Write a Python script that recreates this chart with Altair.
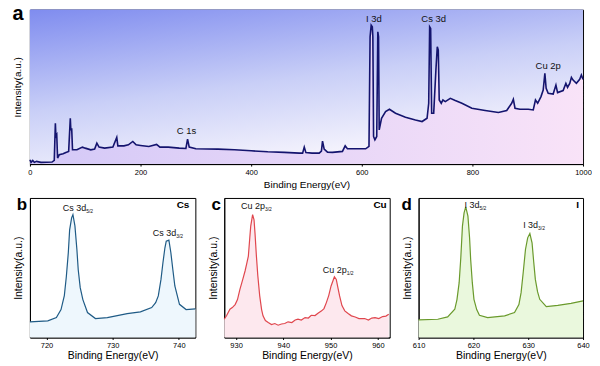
import altair as alt
import pandas as pd

FONT = "Liberation Sans"

# ---------------- panel a : survey spectrum ----------------
survey_E = [0, 2, 5, 8, 12, 20, 40, 44, 46, 47, 48.5, 50, 53, 60, 65, 70, 73, 74, 75.5, 77,
            85, 95, 100, 110, 117, 121, 125, 135, 150, 157, 159, 170, 178, 186, 192, 200, 215,
            229, 235, 250, 270, 282, 285, 288, 300, 340, 370, 400, 430, 460, 487, 493, 496, 499,
            510, 523, 527, 529, 532, 538, 547, 565, 570, 574, 583, 607, 613, 615, 617, 619, 620,
            621.3, 623.7, 627, 629, 630.3, 631.5, 635.7, 643, 650, 661, 679, 697, 709, 718, 721,
            722.7, 724.5, 726.3, 730, 734, 736.5, 738.3, 740, 743.7, 746.7, 751, 760, 769, 781,
            799, 823, 847, 862, 871, 874, 877, 886, 901, 910, 914, 918, 924, 928, 931, 933.3,
            937, 946, 951, 954, 964, 969, 972, 976, 979, 982, 988, 994, 997, 1000]
survey_I = [4.3, 1.7, 3.7, 1.7, 2.7, 1.7, 2.0, 3.7, 41, 27.7, 29.3, 6, 9.3, 10.3, 11.7, 12.7, 46, 34, 36, 14.3,
            14.3, 17, 16, 14.3, 15, 21, 17, 16, 17, 26.7, 18.3, 18.3, 19.3, 22.7, 19.3, 18.7, 17.7,
            19.7, 17, 17, 16, 15.7, 25, 17, 15.3, 15, 14.3, 13.3, 12.3, 11.7, 11, 11, 17, 11.5,
            11, 11, 13, 23, 15, 12, 11.7, 12.7, 18.3, 15.5, 15.3, 15.3, 17.7, 127.7, 139.3, 137.7, 127.7,
            27.7, 24.3, 27.7, 132.7, 127.7, 34.3, 46, 52.7, 55, 51, 47, 44.3, 42.7, 46, 61,
            137.7, 136, 51, 51, 94.3, 117.7, 114.3, 64.3, 61, 64.3, 62.7, 66, 63.7, 61,
            56, 53.7, 51.7, 53.7, 61, 65, 56, 55, 55, 54.3, 64.3, 61, 67.7, 74.3, 91, 76,
            71, 70.3, 79.3, 71.7, 73.7, 81, 77, 81, 87, 84.3, 81, 85, 89.3, 85]
survey_ticks = [0, 200, 400, 600, 800, 1000]
survey_lab_text = ["C 1s", "I 3d", "Cs 3d", "Cu 2p"]
survey_lab_E = [283, 622, 730, 937]
survey_lab_I = [33, 146, 146, 98]

# ---------------- panel b : Cs 3d ----------------
cs_E = [717.5, 720.2, 721.5, 722.2, 722.7, 723.0, 723.3, 723.5, 723.8, 724.0, 724.3, 724.6, 724.8,
        725.1, 725.5, 726.2, 727.4, 729.2, 730.7, 732.2, 734.2, 735.9, 736.5, 736.9, 737.3, 737.6,
        737.9, 738.1, 738.5, 738.8, 739.1, 739.4, 740.1, 741.1, 742.5]
cs_I = [15.7, 16.7, 20, 28, 42, 61, 85, 108, 120, 123.3, 112, 88, 68,
        50, 38, 25, 19, 20, 22, 24, 25.7, 30, 35, 41.7, 58, 75,
        90, 96.7, 97.7, 85, 68, 51.7, 33.3, 28, 28.7]
cs_ticks = [720, 730, 740]
cs_lab_main = ["Cs 3d", "Cs 3d"]
cs_lab_sub = ["5/2", "3/2"]
cs_lab_E = [726.0, 739.6]
cs_lab_I = [130, 105]

# ---------------- panel c : Cu 2p ----------------
cu_E = [927.5, 928.0, 928.7, 929.2, 929.8, 930.3, 930.8, 931.4, 931.9, 932.3, 932.6, 932.9, 933.1,
        933.5, 933.8, 934.0, 934.3, 934.6, 935.0, 935.4, 935.7, 936.2, 936.8, 937.5, 938.2, 938.9,
        939.6, 940.3, 941.0, 941.8, 942.5, 943.1, 943.8, 944.6, 945.3, 945.9, 946.7, 947.4, 948.1,
        948.6, 949.1, 949.6, 950.1, 950.5, 950.8, 951.2, 951.5, 951.9, 952.4, 953.0, 953.7, 954.4,
        955.2, 956.0, 957.2, 958.0, 958.7, 959.4, 960.2, 961.0, 961.7, 962.3]
cu_I = [18.3, 22, 28.3, 30, 33, 38, 48, 58, 66.7, 75, 81.7, 100, 111.7,
        123.3, 118, 105, 81.7, 62, 41.7, 28, 21.7, 17, 15, 13, 14, 12.3,
        13.5, 14, 15.7, 15, 17.5, 18.3, 17.5, 20, 19.5, 22.3, 22, 24.5, 26.7,
        29, 35, 42, 51.7, 57, 61, 58.3, 51, 41.7, 32, 26.7, 24, 21.7,
        20.5, 19, 19, 17.5, 19.5, 20, 19, 21, 21.5, 23.3]
cu_ticks = [930, 940, 950, 960]
cu_lab_main = ["Cu 2p", "Cu 2p"]
cu_lab_sub = ["3/2", "1/2"]
cu_lab_E = [936.1, 953.4]
cu_lab_I = [132, 68]

# ---------------- panel d : I 3d ----------------
i_E = [610, 613.5, 615.3, 616.6, 617.0, 617.4, 617.7, 618.0, 618.3, 618.6, 619.0, 619.3, 619.5,
       619.8, 620.1, 620.6, 621.1, 622.6, 625.7, 627.5, 628.3, 628.7, 629.1, 629.5, 629.9, 630.3,
       630.7, 631.0, 631.3, 631.7, 632.1, 633.3, 635.4, 637.8, 640]
i_I = [17.7, 18.3, 20.7, 28.3, 38, 55, 80, 111.7, 125, 131, 121.7, 100, 78.3,
       55, 38.3, 28, 22.3, 20, 21.7, 25, 33, 45, 66, 88.3, 100, 104.3,
       95, 76, 58.3, 46, 38.3, 31, 32.3, 34.3, 36.7]
i_ticks = [610, 620, 630, 640]
i_lab_main = ["I 3d", "I 3d"]
i_lab_sub = ["5/2", "3/2"]
i_lab_E = [621.1, 631.8]
i_lab_I = [133, 113]

letters = ["a", "b", "c", "d"]
elements = ["Cs", "Cu", "I"]


def x_enc(dom, ticks, label_size, title_size, title_pad):
    return alt.X("E:Q", scale=alt.Scale(domain=dom, nice=False, zero=False),
                 axis=alt.Axis(values=ticks, title="Binding Energy(eV)", labelFlush=False,
                               labelFontSize=label_size, titleFontSize=title_size,
                               tickSize=2, labelPadding=2, titlePadding=title_pad,
                               format="d"))


def y_enc(dom, title_size, title_pad):
    return alt.Y("I:Q", scale=alt.Scale(domain=dom, nice=False, zero=False),
                 axis=alt.Axis(labels=False, ticks=False, title="Intensity(a.u.)",
                               titleFontSize=title_size, titlePadding=title_pad))


# ---------- top panel ----------
WA, HA = 555, 155
dfa = pd.DataFrame({"E": survey_E, "I": survey_I})
xa = x_enc([0, 1000], survey_ticks, 7.5, 10, 4)
ya = y_enc([0, 155], 10, 7)

bg = alt.Chart(pd.DataFrame({"k": [0]})).mark_rect(
    color=alt.Gradient(gradient="linear", x1=0, y1=0, x2=0.45, y2=1,
                       stops=[alt.GradientStop(offset=0, color="#7f8cef"),
                              alt.GradientStop(offset=0.55, color="#c9cff7"),
                              alt.GradientStop(offset=1, color="#f7f5fd")])
).encode(x=alt.value(0), x2=alt.value(WA), y=alt.value(0), y2=alt.value(HA))

area_a = alt.Chart(dfa).mark_area(
    color=alt.Gradient(gradient="linear", x1=0, y1=0, x2=1, y2=0,
                       stops=[alt.GradientStop(offset=0, color="#d3c8f7"),
                              alt.GradientStop(offset=1, color="#f9e3f8")])
).encode(x=xa, y=ya)
line_a = alt.Chart(dfa).mark_line(color="#14146e", strokeWidth=1.6).encode(x=xa, y=ya)
ann_a = alt.Chart(pd.DataFrame({"E": survey_lab_E, "I": survey_lab_I, "t": survey_lab_text})).mark_text(
    font=FONT, fontSize=9.5, color="#111111", baseline="middle").encode(x="E:Q", y="I:Q", text="t:N")
let_a = alt.Chart(pd.DataFrame({"t": [letters[0]]})).mark_text(
    font=FONT, fontSize=20, fontWeight="bold", color="black", baseline="alphabetic").encode(
    x=alt.value(-12), y=alt.value(10), text="t:N")

top = alt.layer(bg, area_a, line_a, ann_a, let_a).properties(width=WA, height=HA)


# ---------- bottom panels ----------
def small(E, I, dom, ticks, w, line_color, fill_color, letter, letter_x, element, element_x,
          lab_main, lab_sub, lab_E, lab_I):
    H = 140
    df = pd.DataFrame({"E": E, "I": I})
    xe = x_enc(dom, ticks, 7.5, 10.5, 2)
    ye = y_enc([0, 140], 10.5, 6)
    area = alt.Chart(df).mark_area(color=fill_color).encode(x=xe, y=ye)
    line = alt.Chart(df).mark_line(color=line_color, strokeWidth=1.2).encode(x=xe, y=ye)
    dfl = pd.DataFrame({"E": lab_E, "I": lab_I, "m": lab_main, "s": lab_sub})
    main = alt.Chart(dfl).mark_text(font=FONT, fontSize=9, color="#111111", align="right",
                                    baseline="middle").encode(x="E:Q", y="I:Q", text="m:N")
    sub = alt.Chart(dfl).mark_text(font=FONT, fontSize=5, color="#111111", align="left",
                                   baseline="middle", dy=3).encode(x="E:Q", y="I:Q", text="s:N")
    el = alt.Chart(pd.DataFrame({"t": [element]})).mark_text(
        font=FONT, fontSize=10, fontWeight="bold", color="black", align="right",
        baseline="middle").encode(x=alt.value(w - element_x), y=alt.value(7), text="t:N")
    let = alt.Chart(pd.DataFrame({"t": [letter]})).mark_text(
        font=FONT, fontSize=17, fontWeight="bold", color="black",
        baseline="alphabetic").encode(x=alt.value(letter_x), y=alt.value(12), text="t:N")
    return alt.layer(area, line, main, sub, el, let).properties(width=w, height=H)


pb = small(cs_E, cs_I, [717.5, 742.5], cs_ticks, 166, "#1f5b86", "#eef7fd", letters[1], -8,
           elements[0], 6, cs_lab_main, cs_lab_sub, cs_lab_E, cs_lab_I)
pc = small(cu_E, cu_I, [927.5, 962.5], cu_ticks, 166, "#e0474e", "#fde8ee", letters[2], -8,
           elements[1], 3, cu_lab_main, cu_lab_sub, cu_lab_E, cu_lab_I)
pd_ = small(i_E, i_I, [610, 640], i_ticks, 165, "#6a9a2c", "#eaf8dd", letters[3], -12,
            elements[2], 4, i_lab_main, i_lab_sub, i_lab_E, i_lab_I)

bottom = alt.hconcat(pb, pc, pd_, spacing=29, bounds="flush")

chart = alt.vconcat(top, bottom, spacing=34, bounds="flush").properties(
    padding={"left": 3, "top": -6, "right": 0, "bottom": 0}
).configure_view(stroke="black", strokeWidth=1).configure_axis(
    grid=False, domainColor="black", tickColor="black", labelColor="black",
    titleColor="black", labelFont=FONT, titleFont=FONT, titleFontWeight="normal",
    domainWidth=1
)

chart.save("out.html", embed_options={"renderer": "svg", "actions": False})
